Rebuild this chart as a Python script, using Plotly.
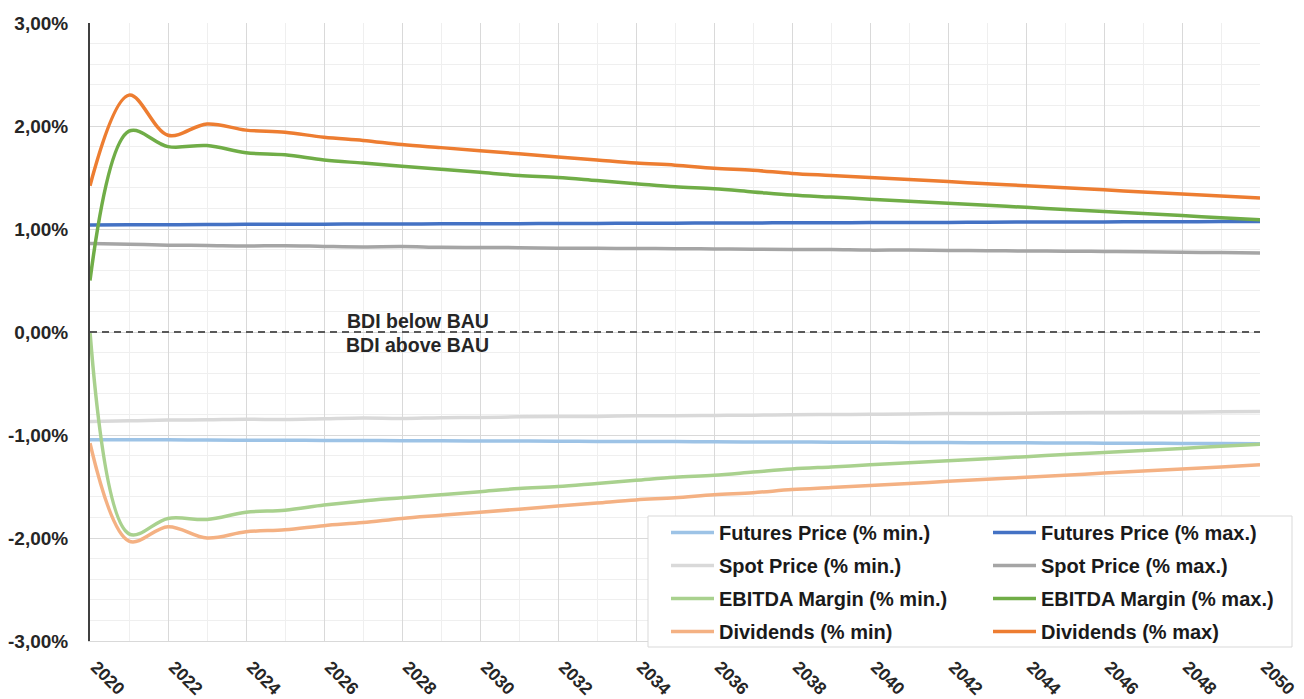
import plotly.graph_objects as go

years = [2020, 2021, 2022, 2023, 2024, 2025, 2026, 2027, 2028, 2029, 2030,
         2031, 2032, 2033, 2034, 2035, 2036, 2037, 2038, 2039, 2040,
         2041, 2042, 2043, 2044, 2045, 2046, 2047, 2048, 2049, 2050]

futures_min = [-1.045, -1.046, -1.047, -1.049, -1.050, -1.051, -1.053, -1.054, -1.055, -1.057, -1.058,
               -1.059, -1.060, -1.062, -1.063, -1.064, -1.066, -1.067, -1.068, -1.070, -1.071,
               -1.072, -1.074, -1.075, -1.076, -1.078, -1.079, -1.080, -1.082, -1.083, -1.085]
futures_max = [1.040, 1.041, 1.042, 1.043, 1.045, 1.046, 1.047, 1.048, 1.049, 1.050, 1.051,
               1.052, 1.053, 1.054, 1.056, 1.057, 1.058, 1.059, 1.060, 1.061, 1.062,
               1.063, 1.064, 1.066, 1.067, 1.068, 1.069, 1.070, 1.071, 1.072, 1.074]
spot_min = [-0.870, -0.862, -0.855, -0.852, -0.847, -0.850, -0.843, -0.836, -0.840, -0.832, -0.830,
            -0.824, -0.821, -0.820, -0.813, -0.812, -0.810, -0.808, -0.803, -0.801, -0.799,
            -0.797, -0.792, -0.791, -0.788, -0.784, -0.782, -0.780, -0.779, -0.775, -0.772]
spot_max = [0.860, 0.852, 0.843, 0.840, 0.835, 0.838, 0.831, 0.826, 0.829, 0.822, 0.821,
            0.819, 0.814, 0.813, 0.810, 0.809, 0.806, 0.803, 0.801, 0.800, 0.795,
            0.797, 0.792, 0.790, 0.786, 0.785, 0.782, 0.779, 0.774, 0.771, 0.766]
ebitda_min = [0.00, -1.96, -1.81, -1.82, -1.75, -1.73, -1.68, -1.64, -1.61, -1.58, -1.55,
              -1.52, -1.50, -1.47, -1.44, -1.41, -1.39, -1.36, -1.33, -1.31, -1.29,
              -1.27, -1.25, -1.23, -1.21, -1.19, -1.17, -1.15, -1.13, -1.11, -1.09]
ebitda_max = [0.50, 1.95, 1.80, 1.81, 1.74, 1.72, 1.67, 1.64, 1.61, 1.58, 1.55,
              1.52, 1.50, 1.47, 1.44, 1.41, 1.39, 1.36, 1.33, 1.31, 1.29,
              1.27, 1.25, 1.23, 1.21, 1.19, 1.17, 1.15, 1.13, 1.11, 1.09]
div_min = [-1.08, -2.03, -1.89, -2.00, -1.94, -1.92, -1.88, -1.85, -1.81, -1.78, -1.75,
           -1.72, -1.69, -1.66, -1.63, -1.61, -1.58, -1.56, -1.53, -1.51, -1.49,
           -1.47, -1.45, -1.43, -1.41, -1.39, -1.37, -1.35, -1.33, -1.31, -1.29]
div_max = [1.42, 2.30, 1.91, 2.02, 1.96, 1.94, 1.89, 1.86, 1.82, 1.79, 1.76,
           1.73, 1.70, 1.67, 1.64, 1.62, 1.59, 1.57, 1.54, 1.52, 1.50,
           1.48, 1.46, 1.44, 1.42, 1.40, 1.38, 1.36, 1.34, 1.32, 1.30]

y_tickvals = [-3, -2, -1, 0, 1, 2, 3]
y_ticktext = ["-3,00%", "-2,00%", "-1,00%", "0,00%", "1,00%", "2,00%", "3,00%"]
x_tickvals = [2020, 2022, 2024, 2026, 2028, 2030, 2032, 2034, 2036, 2038,
              2040, 2042, 2044, 2046, 2048, 2050]

series = [
    ("Futures Price (% min.)", futures_min, "#9DC3E6", "legend"),
    ("Futures Price (% max.)", futures_max, "#4472C4", "legend2"),
    ("Spot Price (% min.)", spot_min, "#D9D9D9", "legend"),
    ("Spot Price (% max.)", spot_max, "#A5A5A5", "legend2"),
    ("EBITDA Margin (% min.)", ebitda_min, "#A9D18E", "legend"),
    ("EBITDA Margin (% max.)", ebitda_max, "#70AD47", "legend2"),
    ("Dividends (% min)", div_min, "#F4B183", "legend"),
    ("Dividends (% max)", div_max, "#ED7D31", "legend2"),
]

FONT = "Liberation Sans, Arial, sans-serif"

# page has an 8px body margin; figure is placed at (8, 8)
OFF = 8
FIG_W, FIG_H = 1304 - OFF, 699 - OFF
# desired plot area in page pixels: x 90..1260, y 23..641
PL, PR, PT, PB = 90, 1260, 23, 641
PW, PH = PR - PL, PB - PT


def px_x(px):
    return (px - PL) / PW


def px_y(py):
    return (PB - py) / PH


fig = go.Figure()
for i, (name, vals, color, leg) in enumerate(series):
    fig.add_trace(go.Scatter(
        x=years, y=vals, name=name, mode="lines",
        line=dict(color=color, width=3.5, shape="spline", smoothing=1.0),
        legend=leg, legendgroup="g%d" % i,
        hoverinfo="skip",
    ))

# zero reference line
fig.add_shape(type="line", xref="x", yref="y", x0=2020, x1=2050, y0=0, y1=0,
              line=dict(color="#595959", width=2, dash="7px,5px"), layer="above")

# legend frame (box behind two legend columns)
fig.add_shape(type="rect", xref="paper", yref="paper",
              x0=px_x(648), x1=px_x(1292), y0=px_y(647), y1=px_y(516),
              fillcolor="white", line=dict(color="#D9D9D9", width=1), layer="above")

fig.add_annotation(x=2028.4, y=0.0, yshift=11, text="<b>BDI below BAU</b>",
                   showarrow=False, xanchor="center", yanchor="middle",
                   font=dict(family=FONT, size=19.5, color="#262626"))
fig.add_annotation(x=2028.4, y=0.0, yshift=-13, text="<b>BDI above BAU</b>",
                   showarrow=False, xanchor="center", yanchor="middle",
                   font=dict(family=FONT, size=19.5, color="#262626"))

legend_common = dict(orientation="v", bgcolor="rgba(0,0,0,0)", borderwidth=0,
                     font=dict(family=FONT, size=20, color="#1a1a1a", weight="bold"),
                     tracegroupgap=4, itemwidth=43, xanchor="left", yanchor="top",
                     itemclick=False, itemdoubleclick=False)

fig.update_layout(
    width=FIG_W, height=FIG_H,
    margin=dict(l=PL - OFF, r=FIG_W - (PR - OFF), t=PT - OFF, b=FIG_H - (PB - OFF),
                autoexpand=False),
    paper_bgcolor="white", plot_bgcolor="white",
    showlegend=True,
    legend=dict(x=px_x(666), y=px_y(513), **legend_common),
    legend2=dict(x=px_x(988), y=px_y(513), **legend_common),
    xaxis=dict(
        range=[2020, 2050], tickmode="array", tickvals=x_tickvals,
        tickangle=45, showgrid=True, gridcolor="#D9D9D9", gridwidth=1,
        minor=dict(tickmode="linear", tick0=2020, dtick=1, showgrid=True,
                   gridcolor="#EFEFEF", gridwidth=1),
        showline=True, linecolor="#D9D9D9", linewidth=1,
        zeroline=False, ticks="", automargin=False, ticklabelstandoff=8,
        ticklabelshift=6,
        tickfont=dict(family=FONT, size=17.5, color="#262626", weight="bold"),
    ),
    yaxis=dict(
        range=[-3, 3], tickmode="array", tickvals=y_tickvals, ticktext=y_ticktext,
        showgrid=True, gridcolor="#D9D9D9", gridwidth=1,
        minor=dict(tickmode="linear", tick0=0, dtick=0.2, showgrid=True,
                   gridcolor="#EFEFEF", gridwidth=1),
        showline=True, linecolor="#404040", linewidth=2,
        zeroline=False, ticks="", ticklabelstandoff=16, automargin=False,
        tickfont=dict(family=FONT, size=19, color="#262626", weight="bold"),
    ),
)

fig.write_html("out.html")
